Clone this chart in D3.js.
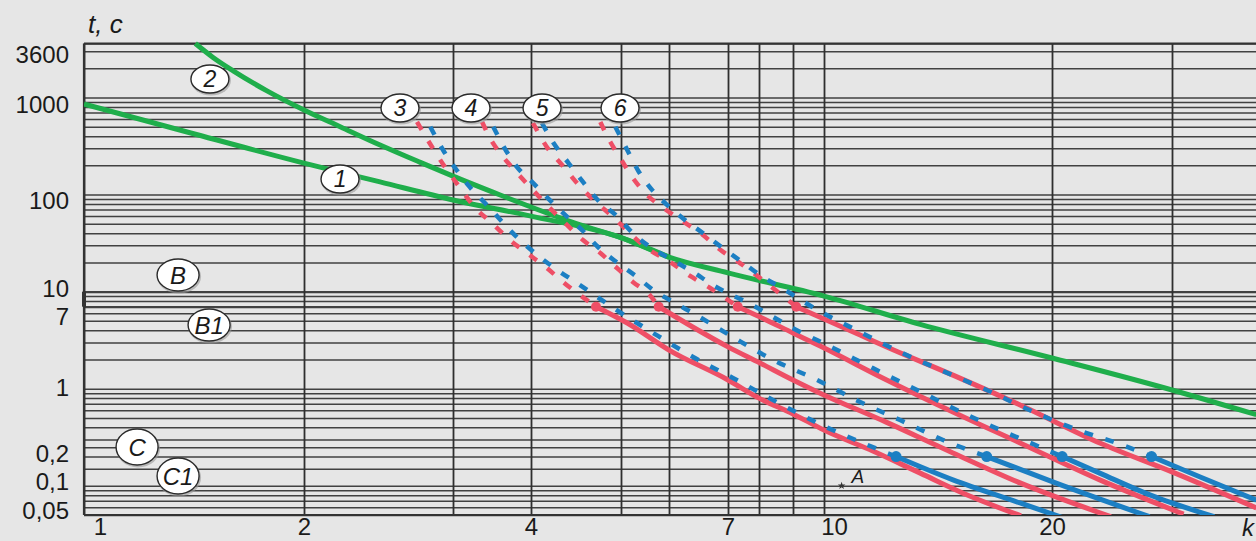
<!DOCTYPE html>
<html>
<head>
<meta charset="utf-8">
<script src="https://cdn.jsdelivr.net/npm/d3@7"></script>
<style>
html,body{margin:0;padding:0;background:#e6e6e6;}
svg{display:block;}
text{font-family:"Liberation Sans",Arial,sans-serif;fill:#1a1a1a;}
</style>
</head>
<body>
<svg id="chart" width="1256" height="541"></svg>
<script>
// ---------------- data ----------------
// x: multiple of rated current (log), y: time t, c (log)
const xGrid = [1,2,3,4,5,6,7,8,9,10,20,30];
const xLabels = [1,2,4,7,10,20];
const yGrid = [0.05,0.06,0.07,0.08,0.09,0.1,0.15,0.2,0.25,0.3,0.4,0.5,0.6,0.7,0.8,0.9,
               1,2,3,4,5,6,7,8,9,10,20,30,40,50,60,70,80,90,
               100,200,300,400,500,600,700,800,900,1000,2000,3000,3600];
const yLabels = [3600,1000,100,10,7,1,0.2,0.1,0.05];
const yLabelText = ["3600","1000","100","10","7","1","0,2","0,1","0,05"];

// green curves 1 and 2
const curve1I = [1,1.4,2,2.46,3,4,5,6,7,10,13.4,20,30,39.9];
const curve1T = [857,431,211,135,88,60,36,22.7,15.6,9.0,4.6,2.07,0.97,0.54];
const curve2I = [1.42,1.5,1.6,1.78,2,2.21,2.46,2.74,3,3.57,4,4.52,5,6];
const curve2T = [3600,2600,1880,1170,743,497,324,216,155,99,74.4,48.6,36,22.7];

// group 3
const red3DashI = [2.72,2.84,2.94,3.08,3.25,3.46,3.70,3.94,4.16,4.33,4.7];
const red3DashT = [560,300,188,117,74,51,34,25,17.5,12.6,7];
const red3SolidI = [4.7,5.12,6.0,7.0,8.0,9,10,11.6,13.4,15.6,18.2];
const red3SolidT = [7,4.75,2.5,1.23,0.8,0.55,0.375,0.228,0.135,0.078,0.049];
const blue3DashI = [2.82,2.92,3.04,3.19,3.40,3.61,3.84,4.06,4.27,4.48,4.93,5.65,6.39,7.15,8.5,9.87,11.2,12.45];
const blue3DashT = [500,288,179,120,78,51,34,24,16.7,12.3,6.6,3.75,2.12,1.29,0.73,0.43,0.28,0.2];
const blue3SolidI = [12.45,14.8,18.15,20.8];
const blue3SolidT = [0.2,0.115,0.0665,0.0466];

// group 4
const red4DashI = [3.34,3.44,3.61,3.80,4.02,4.19,4.37,4.55,4.75,4.95,5.23,5.58,5.77];
const red4DashT = [560,380,244,167,111,73,49,34,25,17.5,12.6,9.2,7];
const red4SolidI = [5.77,6.39,7,8.03,9,9.87,12.1,14.8,18.15,24.4];
const red4SolidT = [7,4.3,2.7,1.84,1.23,0.9,0.45,0.218,0.107,0.048];
const blue4DashI = [3.48,3.63,3.80,4.01,4.17,4.35,4.54,4.72,4.95,5.31,5.65,6.1,6.39,7.15,8.4,9.77,11.16,12.6,14.36,16.4];
const blue4DashT = [500,300,192,135,92,62,43,29,20,14.2,10.4,7.6,6.0,3.4,1.98,1.23,0.73,0.476,0.296,0.2];
const blue4SolidI = [16.4,20.1,27.8];
const blue4SolidT = [0.2,0.109,0.048];

// group 5
const red5DashI = [4.02,4.16,4.32,4.5,4.67,4.9,5.17,5.52,6.02,6.34,6.68,7.3];
const red5DashT = [546,309,202,126,88,59,40,28,20.2,14.5,10.9,7];
const red5SolidI = [7.3,8.03,9,9.87,12.1,14.8,18.15,23.5,31.2];
const red5SolidT = [7,5.48,3.75,2.75,1.23,0.575,0.276,0.115,0.051];
const blue5DashI = [4.11,4.23,4.39,4.55,4.72,4.96,5.23,5.58,6.05,6.39,6.73,7.76,9,10.28,11.6,13.27,15.0,17.1,19.3,20.7];
const blue5DashT = [546,340,211,135,88,59,40,29,21.2,15.9,11.7,7.3,4.2,2.63,1.63,0.97,0.6,0.375,0.25,0.2];
const blue5SolidI = [20.7,23.5,27.9,34.6];
const blue5SolidT = [0.2,0.135,0.08,0.048];

// group 6
const red6DashI = [4.75,4.87,4.99,5.23,5.52,5.87,6.22,6.54,6.86,7.37,8.03,9.1];
const red6DashT = [559,348,238,148,99,73,53,39,27,19.7,13.8,7];
const red6SolidI = [9.1,9.87,11.16,12.1,14.8,18.15,23.5,30,39.9];
const red6SolidT = [7,5.45,3.57,2.69,1.38,0.68,0.276,0.139,0.059];
const blue6DashI = [4.93,5.12,5.33,5.63,5.96,6.22,6.56,6.91,7.44,8.03,8.6,9.77,11.16,12.6,14.36,16.4,18.7,21.5,25.1,28.0];
const blue6DashT = [500,288,179,111,78,57,40,28,20.2,14.8,11.2,6.5,3.84,2.39,1.52,0.97,0.6,0.39,0.27,0.2];
const blue6SolidI = [28.0,33.0,39.9];
const blue6SolidT = [0.2,0.123,0.071];

// circled labels
const markNames = ["1","2","3","4","5","6","B","B1","C","C1"];
const markI = [2.206,1.487,2.597,3.206,4.111,4.988,1.345,1.483,1.182,1.345];
const markT = [144.6,1550,779,779,779,779,14.84,4.53,0.251,0.126];

// point A
const pointA = [10.55,0.1];

// ---------------- layout ----------------
const W = 1256, H = 541;
const xGridPx = [84,304,453,531,621,669,728,759,793,824,1052,1172]; // calibration of the printed log grid
const yLabelShift = [12,8,7,-2,11,0,-2,-3,-4];   // label nudges as printed
const xLabelShift = {1:16, 10:10};
const COLORS = {bg:"#e6e6e6", grid:"#2f2f2f", green:"#1fae4b", red:"#ee4f66", blue:"#1c7fc3"};

const svg = d3.select("#chart");
svg.append("rect").attr("width",W).attr("height",H).attr("fill",COLORS.bg);

const x = d3.scaleLog().domain(xGrid).range(xGridPx);
const y = d3.scaleLog().domain([0.05,3600]).range([515,43.5]);

const L = x(1), R = W, T = y(3600), B = y(0.05);

svg.append("defs").append("clipPath").attr("id","plotclip")
  .append("rect").attr("x",L).attr("y",T-3).attr("width",R-L).attr("height",B-T+3);

// horizontal grid (axis with long ticks)
svg.append("g")
  .attr("transform",`translate(${L},0)`)
  .call(d3.axisLeft(y).tickValues(yGrid).tickSize(-(R-L)).tickFormat(""))
  .call(g=>g.select(".domain").remove())
  .call(g=>g.selectAll(".tick line")
      .attr("stroke",COLORS.grid)
      .attr("stroke-width",d=>(d===10||d===7)?2.2:1.5)
      .attr("stroke-opacity",0.9));

// vertical grid
svg.append("g")
  .attr("transform",`translate(0,${B})`)
  .call(d3.axisBottom(x).tickValues(xGrid).tickSize(-(B-T)).tickFormat(""))
  .call(g=>g.select(".domain").remove())
  .call(g=>g.selectAll(".tick line").attr("stroke",COLORS.grid).attr("stroke-width",1.8));

// frame
const frame = svg.append("g").attr("stroke","#333").attr("stroke-width",2.2);
frame.append("line").attr("x1",L).attr("x2",L).attr("y1",T).attr("y2",B);
frame.append("line").attr("x1",L).attr("x2",R).attr("y1",T).attr("y2",T);
frame.append("line").attr("x1",L).attr("x2",R).attr("y1",B).attr("y2",B);
frame.append("line").attr("x1",L).attr("x2",L).attr("y1",y(10)).attr("y2",y(7)).attr("stroke-width",4);

// y labels
svg.append("g")
  .attr("transform",`translate(${L},0)`)
  .call(d3.axisLeft(y).tickValues(yLabels).tickSize(0).tickPadding(15)
        .tickFormat(d=>yLabelText[yLabels.indexOf(d)]))
  .call(g=>g.select(".domain").remove())
  .call(g=>g.selectAll(".tick").attr("transform",(d,i)=>`translate(0,${y(d)+yLabelShift[i]})`))
  .call(g=>g.selectAll("text").attr("font-size",24).attr("fill","#1a1a1a")
        .style("font-family","'Liberation Sans',Arial,sans-serif"));

// x labels
svg.append("g")
  .attr("transform",`translate(0,${B})`)
  .call(d3.axisBottom(x).tickValues(xLabels).tickSize(0).tickPadding(3).tickFormat(d3.format("d")))
  .call(g=>g.select(".domain").remove())
  .call(g=>g.selectAll("text").attr("font-size",24).attr("fill","#1a1a1a")
        .style("font-family","'Liberation Sans',Arial,sans-serif")
        .attr("dx",d=>xLabelShift[d]||0));

// axis titles
svg.append("text").attr("x",L+4).attr("y",33).attr("font-size",26).attr("font-style","italic").text("t, c");
svg.append("text").attr("x",W-14).attr("y",B+21).attr("font-size",24).attr("font-style","italic").text("k");

// ---------------- curves ----------------
const plot = svg.append("g").attr("clip-path","url(#plotclip)");
const line = d3.line().x(d=>x(d[0])).y(d=>y(d[1])).curve(d3.curveMonotoneX);
const zip = (a,b)=>d3.zip(a,b);

function drawLine(I,Tv,color,dashed,width){
  plot.append("path").datum(zip(I,Tv))
    .attr("d",line).attr("fill","none").attr("stroke",color)
    .attr("stroke-width",width)
    .attr("stroke-dasharray",dashed?"9,13":null)
    .attr("stroke-linecap","butt").attr("stroke-linejoin","round");
}

drawLine(curve1I,curve1T,COLORS.green,false,5);
drawLine(curve2I,curve2T,COLORS.green,false,5);

const groups = [
  {rd:[red3DashI,red3DashT], rs:[red3SolidI,red3SolidT], bd:[blue3DashI,blue3DashT], bs:[blue3SolidI,blue3SolidT]},
  {rd:[red4DashI,red4DashT], rs:[red4SolidI,red4SolidT], bd:[blue4DashI,blue4DashT], bs:[blue4SolidI,blue4SolidT]},
  {rd:[red5DashI,red5DashT], rs:[red5SolidI,red5SolidT], bd:[blue5DashI,blue5DashT], bs:[blue5SolidI,blue5SolidT]},
  {rd:[red6DashI,red6DashT], rs:[red6SolidI,red6SolidT], bd:[blue6DashI,blue6DashT], bs:[blue6SolidI,blue6SolidT]}
];
groups.forEach(g=>{
  drawLine(g.rd[0],g.rd[1],COLORS.red,true,4.5);
  drawLine(g.rs[0],g.rs[1],COLORS.red,false,5);
});
groups.forEach(g=>{
  drawLine(g.bd[0],g.bd[1],COLORS.blue,true,4.5);
  drawLine(g.bs[0],g.bs[1],COLORS.blue,false,5);
});
groups.forEach(g=>{
  plot.append("circle").attr("cx",x(g.rs[0][0])).attr("cy",y(g.rs[1][0])).attr("r",5).attr("fill",COLORS.red);
  plot.append("circle").attr("cx",x(g.bs[0][0])).attr("cy",y(g.bs[1][0])).attr("r",5.5).attr("fill",COLORS.blue);
});

// point A
svg.append("path").attr("d",d3.symbol(d3.symbolStar,18)())
  .attr("transform",`translate(${x(pointA[0])},${y(pointA[1])})`).attr("fill","#333");
svg.append("text").attr("x",x(pointA[0])+10).attr("y",y(pointA[1])-3)
  .attr("font-size",19).attr("font-style","italic").attr("fill","#333").text("A");

// circled labels
const marks = svg.append("g");
markNames.forEach((name,i)=>{
  const cx = x(markI[i]), cy = y(markT[i]);
  const isNum = /^[0-9]$/.test(name);
  const rx = isNum ? 19 : 21, ry = isNum ? 14 : (name[0]==="C" ? 18 : 16);
  const g = marks.append("g").attr("transform",`translate(${cx},${cy})`);
  g.append("ellipse").attr("cx",1).attr("cy",1.5).attr("rx",rx+1).attr("ry",ry+1).attr("fill","#9a9a9a").attr("opacity",0.6);
  g.append("ellipse").attr("rx",rx).attr("ry",ry).attr("fill","#ffffff").attr("stroke","#2a2a2a").attr("stroke-width",1.4);
  g.append("text").attr("text-anchor","middle").attr("dy","0.36em")
    .attr("font-size",isNum?23:24).attr("font-style","italic").attr("fill","#1a1a1a").text(name);
});
</script>
</body>
</html>
